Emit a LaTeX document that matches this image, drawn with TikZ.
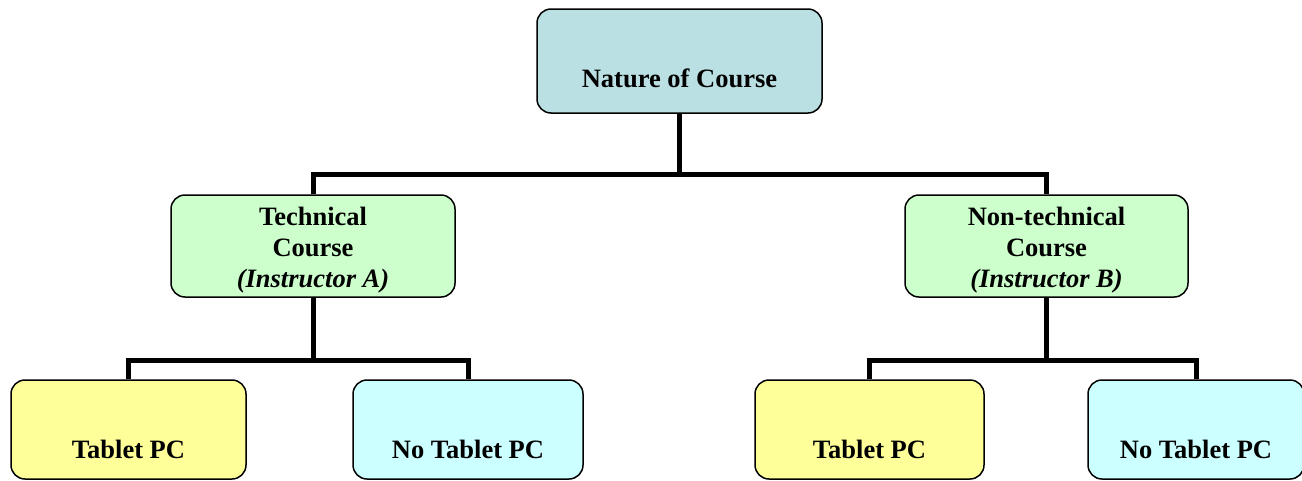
\documentclass[tikz,border=0pt]{standalone}
\usepackage{fontspec}
\setmainfont{Liberation Serif}
\definecolor{topfill}{RGB}{187,224,227}
\definecolor{greenfill}{RGB}{204,255,204}
\definecolor{yellowfill}{RGB}{255,255,153}
\definecolor{cyanfill}{RGB}{204,255,255}
\begin{document}
\begin{tikzpicture}[x=1pt,y=-1pt,
  box/.style={draw=black, line width=1.5pt, rounded corners=14pt, inner sep=0pt},
  lbl/.style={anchor=base, inner sep=0pt, font=\fontsize{26.5}{31}\selectfont\bfseries},
  conn/.style={line width=5pt, line join=miter}]
\useasboundingbox (0,0) rectangle (1302,480);
\clip (0,0) rectangle (1302,480);
% boxes
\node[box, fill=topfill, minimum width=285pt, minimum height=104pt] (top) at (679.5,61) {};
\node[box, fill=greenfill, minimum width=284pt, minimum height=102pt] (tech) at (313,246) {};
\node[box, fill=greenfill, minimum width=283pt, minimum height=102pt] (ntech) at (1046.5,246) {};
\node[box, fill=yellowfill, minimum width=235pt, minimum height=99pt] (tpa) at (128.5,429.5) {};
\node[box, fill=cyanfill, minimum width=230pt, minimum height=99pt] (ntpa) at (468,429.5) {};
\node[box, fill=yellowfill, minimum width=229pt, minimum height=99pt] (tpb) at (869.5,429.5) {};
\node[box, fill=cyanfill, minimum width=216pt, minimum height=99pt] (ntpb) at (1196,429.5) {};
% texts
\node[lbl] (toptxt) at (679.5,87) {Nature of Course};
\node[lbl] (techtxt) at (313,225) {\begin{tabular}[t]{@{}c@{}}Technical\\Course\\\itshape(Instructor A)\end{tabular}};
\node[lbl] (ntechtxt) at (1046.5,225) {\begin{tabular}[t]{@{}c@{}}Non-technical\\Course\\\itshape(Instructor B)\end{tabular}};
\node[lbl] (tpatxt) at (128.5,458) {Tablet PC};
\node[lbl] (ntpatxt) at (468,458) {No Tablet PC};
\node[lbl] (tpbtxt) at (869.5,458) {Tablet PC};
\node[lbl] (ntpbtxt) at (1196,458) {No Tablet PC};
% connectors
\coordinate (j1) at (679.5,174);
\coordinate (j2) at (313,360);
\coordinate (j3) at (1046.5,360);
\draw[conn] (top.south) -- (j1);
\draw[conn] (tech.north) |- (j1) -| (ntech.north);
\draw[conn] (tech.south) -- (j2);
\draw[conn] (tpa.north) |- (j2) -| (ntpa.north);
\draw[conn] (ntech.south) -- (j3);
\draw[conn] (tpb.north) |- (j3) -| (ntpb.north);
\end{tikzpicture}
\end{document}
